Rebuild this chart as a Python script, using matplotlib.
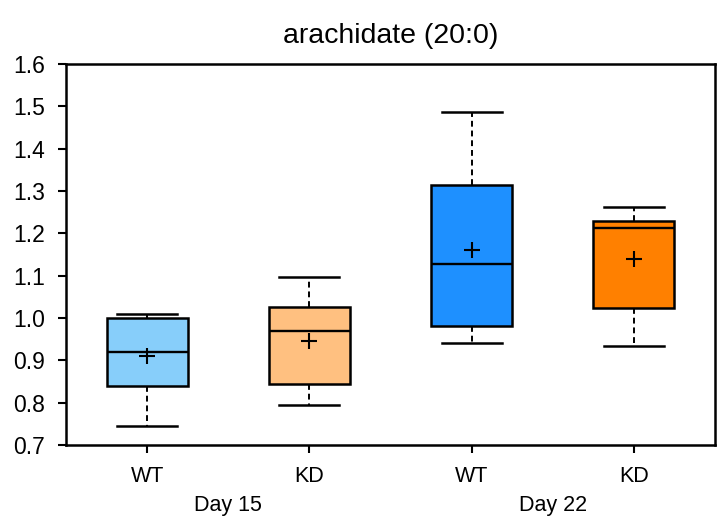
import matplotlib
matplotlib.use("Agg")
import matplotlib.pyplot as plt
import matplotlib.transforms as mtransforms

plt.rcParams['font.family'] = ['Liberation Sans', 'DejaVu Sans']

# values
labels = ["WT", "KD", "WT", "KD"]
groups = ["Day 15", "Day 22"]
whislo = [0.745, 0.795, 0.940, 0.933]
q1 = [0.840, 0.843, 0.980, 1.023]
med = [0.920, 0.970, 1.128, 1.213]
q3 = [1.000, 1.025, 1.315, 1.228]
whishi = [1.010, 1.098, 1.487, 1.262]
means = [0.910, 0.945, 1.160, 1.140]
colors = ["#87CEFA", "#FFC080", "#1E90FF", "#FF8000"]

stats = []
for i in range(4):
    stats.append(dict(whislo=whislo[i], q1=q1[i], med=med[i], q3=q3[i],
                      whishi=whishi[i], mean=means[i], fliers=[]))

fig = plt.figure(figsize=(7.19, 5.29), dpi=100)
ax = fig.add_axes([0.0918, 0.1588, 0.9026, 0.7202])

pos = [1, 2, 3, 4]
bp = ax.bxp(stats, positions=pos, widths=0.5, patch_artist=True, showmeans=True,
            meanprops=dict(marker="+", markeredgecolor="black", markersize=12, markeredgewidth=1.5),
            medianprops=dict(color="black", linewidth=1.7),
            whiskerprops=dict(color="black", linestyle=(0, (3, 2)), linewidth=1.4),
            capprops=dict(color="black", linewidth=1.8),
            boxprops=dict(edgecolor="black", linewidth=1.8),
            capwidths=0.37)
for patch, c in zip(bp["boxes"], colors):
    patch.set_facecolor(c)

ax.set_xlim(0.5, 4.5)
ax.set_ylim(0.7, 1.6)
ax.set_yticks([0.7 + 0.1 * k for k in range(10)])
ax.set_yticklabels([f"{0.7 + 0.1 * k:.1f}" for k in range(10)])
ax.set_xticks(pos)
ax.set_xticklabels(labels)
ax.tick_params(axis="both", direction="out", length=6, width=1.5)
ax.tick_params(axis="x", pad=9, labelsize=15.5)
ax.tick_params(axis="y", pad=9, labelsize=16.5)
for s in ax.spines.values():
    s.set_linewidth(1.8)

trans = mtransforms.blended_transform_factory(ax.transData, ax.transAxes)
ax.text(1.5, -0.16, groups[0], transform=trans, ha="center", va="center", fontsize=15.5)
ax.text(3.5, -0.16, groups[1], transform=trans, ha="center", va="center", fontsize=15.5)

ax.set_title("arachidate (20:0)", fontsize=20.5, pad=15)

fig.savefig("out.png", dpi=100)
